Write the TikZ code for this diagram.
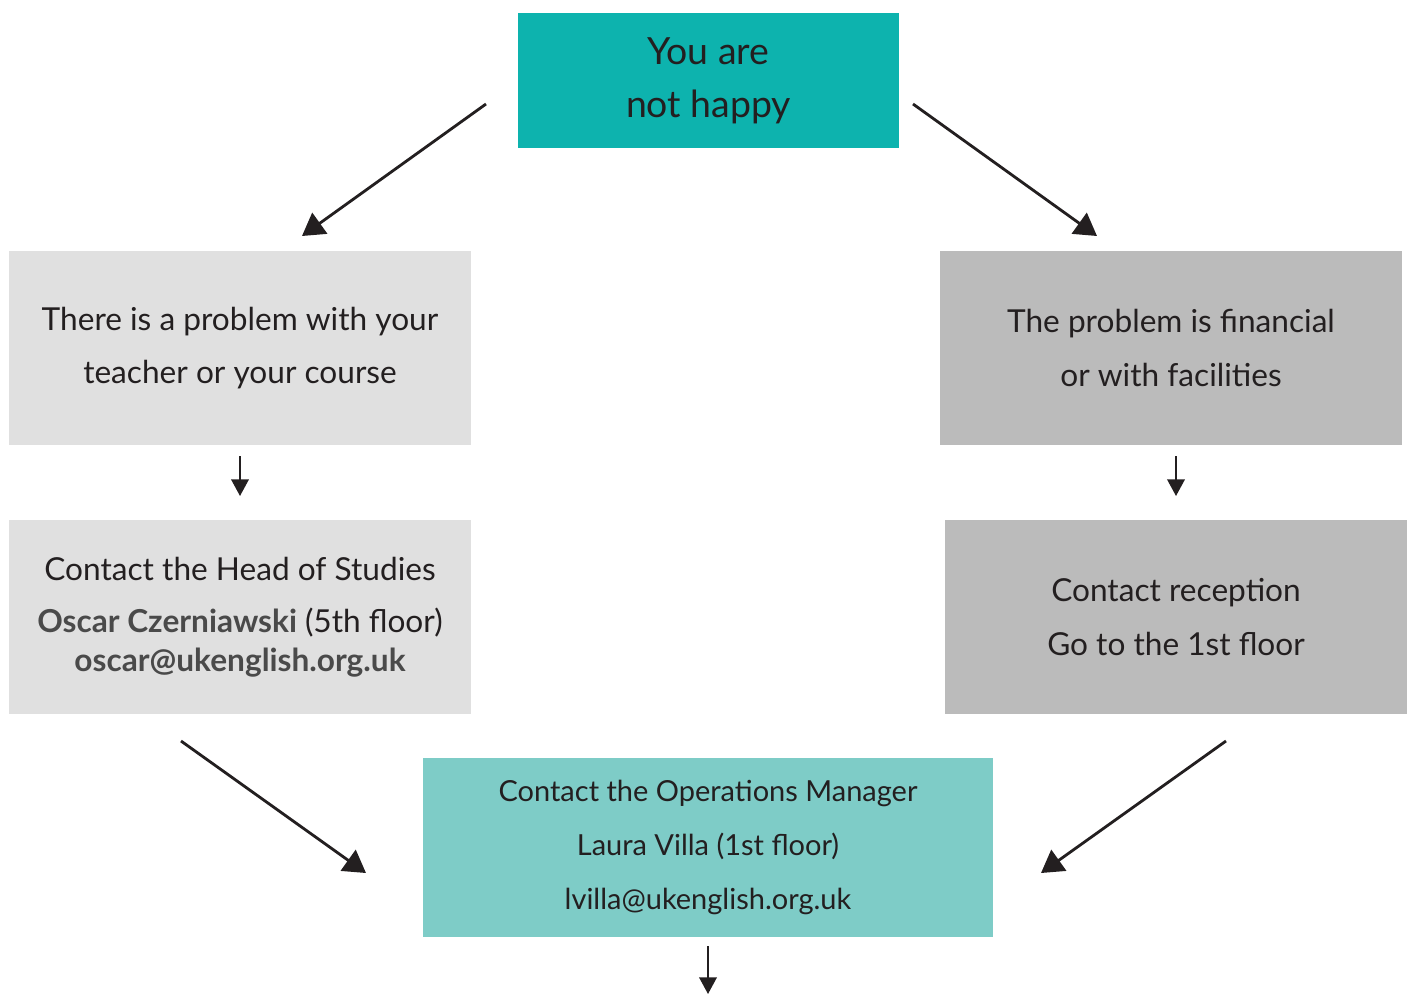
\documentclass[tikz,border=0pt]{standalone}
\usepackage{fontspec}
\setmainfont{Lato}
\usetikzlibrary{arrows.meta}
\definecolor{tealdark}{HTML}{0DB3AE}
\definecolor{teallight}{HTML}{7ECCC7}
\definecolor{greylight}{HTML}{E0E0E0}
\definecolor{greydark}{HTML}{BBBBBB}
\definecolor{txt}{HTML}{231F20}
\definecolor{txtbold}{HTML}{4A4A4A}
\begin{document}
\begin{tikzpicture}
                        [x=0.02cm,y=-0.02cm,
                        box/.style={inner sep=0pt,align=center,text=txt,
                                font=\fontsize{18}{30.6}\selectfont},
                        lgt/.style={box,fill=greylight,minimum width=9.24cm,minimum height=3.88cm},
                        drk/.style={box,fill=greydark,minimum width=9.24cm,minimum height=3.88cm},
                        big/.style={-{Triangle[length=12.5pt,width=14.5pt]},line width=1.6pt,color=txt},
                        small/.style={-{Triangle[length=9.5pt,width=10pt]},line width=1.1pt,color=txt}]
                        \useasboundingbox (0,0) rectangle (1410,994);
                        %Kaesten
                        \node [box,fill=tealdark,minimum width=7.62cm,minimum height=2.7cm,
                                font=\fontsize{21.3}{30}\selectfont] (happy) at (708.5,80.5) {You are\\not happy};
                        \node [lgt] (teach) at (240,348) {There is a problem with your\\teacher or your course};
                        \node [drk] (fin) at (1171,348) {The problem is financial\\or with facilities};
                        \node [lgt] (head) at (240,617) {Contact the Head of Studies\\[-1pt]
                                {\bfseries\color{txtbold}Oscar Czerniawski} (5th floor)\\[-8.5pt]
                                {\bfseries\color{txtbold}oscar@ukenglish.org.uk}};
                        \node [drk] (recep) at (1176,617) {Contact reception\\Go to the 1st floor};
                        \node [box,fill=teallight,minimum width=11.4cm,minimum height=3.58cm,
                                font=\fontsize{16.5}{30.6}\selectfont] (ops) at (708,847.5)
                                {Contact the Operations Manager\\Laura Villa (1st floor)\\lvilla@ukenglish.org.uk};
                        %Pfeile
                        \coordinate (a1) at (486,104);
                        \coordinate (b1) at (302,236);
                        \coordinate (a2) at (913,104);
                        \coordinate (b2) at (1097,236);
                        \coordinate (a3) at (240,456);
                        \coordinate (b3) at (240,496);
                        \coordinate (a4) at (1176,456);
                        \coordinate (b4) at (1176,496);
                        \coordinate (a5) at (181,741);
                        \coordinate (b5) at (366,873);
                        \coordinate (a6) at (1226,741);
                        \coordinate (b6) at (1041,873);
                        \coordinate (a7) at (708,946);
                        \coordinate (b7) at (708,994);
                        \draw [big] (a1) -- (b1);
                        \draw [big] (a2) -- (b2);
                        \draw [small] (a3) -- (b3);
                        \draw [small] (a4) -- (b4);
                        \draw [big] (a5) -- (b5);
                        \draw [big] (a6) -- (b6);
                        \draw [small] (a7) -- (b7);
                \end{tikzpicture}
\end{document}
